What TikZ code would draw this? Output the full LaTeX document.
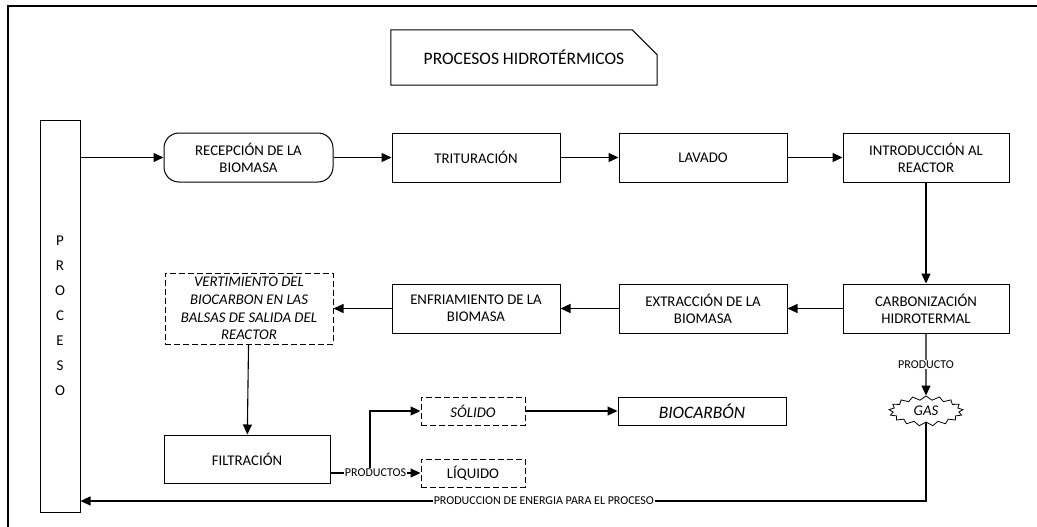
\documentclass[tikz,border=0pt]{standalone}
\usepackage{fontspec}
\setmainfont{Carlito}
\usetikzlibrary{shapes.symbols,arrows.meta,calc}
\begin{document}
\begin{tikzpicture}[x=1pt,y=-1pt,
  every node/.style={inner sep=2pt},
  box/.style={draw, line width=1pt, fill=white, minimum width=168pt, minimum height=49pt, align=center, font=\fontsize{14.8}{17}\selectfont},
  dbox/.style={box, dash pattern=on 6pt off 3pt},
  arr/.style={line width=1.1pt, -{Triangle[length=10pt,width=9pt]}},
  lbl/.style={fill=white, inner sep=0.8pt, font=\fontsize{12}{13}\selectfont}
]
\useasboundingbox (0,0) rectangle (1037,527);
\draw[line width=1.5pt] (8,527) -- (8,6) -- (1037,6);

% title
\node (title) [minimum width=266pt, minimum height=55pt, font=\fontsize{17.5}{20}\selectfont] at (524,57.5) {PROCESOS HIDROTÉRMICOS};
\draw[line width=1pt] (title.north west) -- ($(title.north east)+(-25,0)$) -- ($(title.north east)+(0,25)$) -- (title.south east) -- (title.south west) -- cycle;

% process bar
\node (proc) [draw, line width=1pt, minimum width=40pt, minimum height=392pt, align=center, font=\fontsize{15}{25}\selectfont] at (60,316) {P\\R\\O\\C\\E\\S\\O};

% top row
\node (rec) [box, rounded corners=15pt, minimum width=169pt] at (248.5,157.5) {RECEPCIÓN DE LA\\BIOMASA};
\node (trit) [box] at (476,157.5) {TRITURACIÓN};
\node (lav) [box] at (703,157.5) {LAVADO};
\node (intro) [box, minimum width=166pt] at (926,157.5) {INTRODUCCIÓN AL\\REACTOR};

% middle row
\node (carb) [box, minimum width=166pt] at (926,308.5) {CARBONIZACIÓN\\HIDROTERMAL};
\node (extr) [box] at (703,308.5) {EXTRACCIÓN DE LA\\BIOMASA};
\node (enfr) [box] at (476,308.5) {ENFRIAMIENTO DE LA\\BIOMASA};
\node (vert) [dbox, minimum height=71pt, font=\fontsize{14.8}{17.7}\selectfont\itshape] at (249,308.5) {VERTIMIENTO DEL\\BIOCARBON EN LAS\\BALSAS DE SALIDA DEL\\REACTOR};

% bottom
\node (filt) [box, minimum width=166pt, minimum height=48pt] at (247,459) {FILTRACIÓN};
\node (sol) [dbox, minimum width=104pt, minimum height=28pt, font=\fontsize{14.8}{17}\selectfont\itshape] at (473,411) {SÓLIDO};
\node (liq) [dbox, minimum width=104pt, minimum height=28pt] at (473,473) {LÍQUIDO};
\node (bio) [box, minimum width=168pt, minimum height=28pt, font=\fontsize{17.5}{20}\selectfont\itshape] at (702,411) {BIOCARBÓN};
\node (gas) [draw, line width=0.8pt, starburst, starburst points=17, starburst point height=4pt, random starburst=0, minimum width=74pt, minimum height=30pt, inner sep=0pt, font=\fontsize{14.8}{17}\selectfont\itshape] at (926,411) {GAS};

% connectors
\draw[arr] (proc.east |- rec.west) -- (rec.west);
\draw[arr] (rec) -- (trit);
\draw[arr] (trit) -- (lav);
\draw[arr] (lav) -- (intro);
\draw[arr] (intro) -- (carb);
\draw[arr] (carb) -- (extr);
\draw[arr] (extr) -- (enfr);
\draw[arr] (enfr) -- (vert);
\draw[arr] (vert) -- (filt);
\coordinate (br) at (370,473);
\draw[arr] (br) |- (sol.west);
\draw[arr] (filt.east |- liq.west) -- node[lbl] {PRODUCTOS} (liq.west);
\draw[arr] (sol) -- (bio);
\draw[arr] (carb.south) -- node[lbl, pos=0.5] {PRODUCTO} (gas.north);
\draw[arr] (gas.south) |- node[lbl, pos=0.726] {PRODUCCION DE ENERGIA PARA EL PROCESO} (proc.east |- 0,501);
\end{tikzpicture}
\end{document}
